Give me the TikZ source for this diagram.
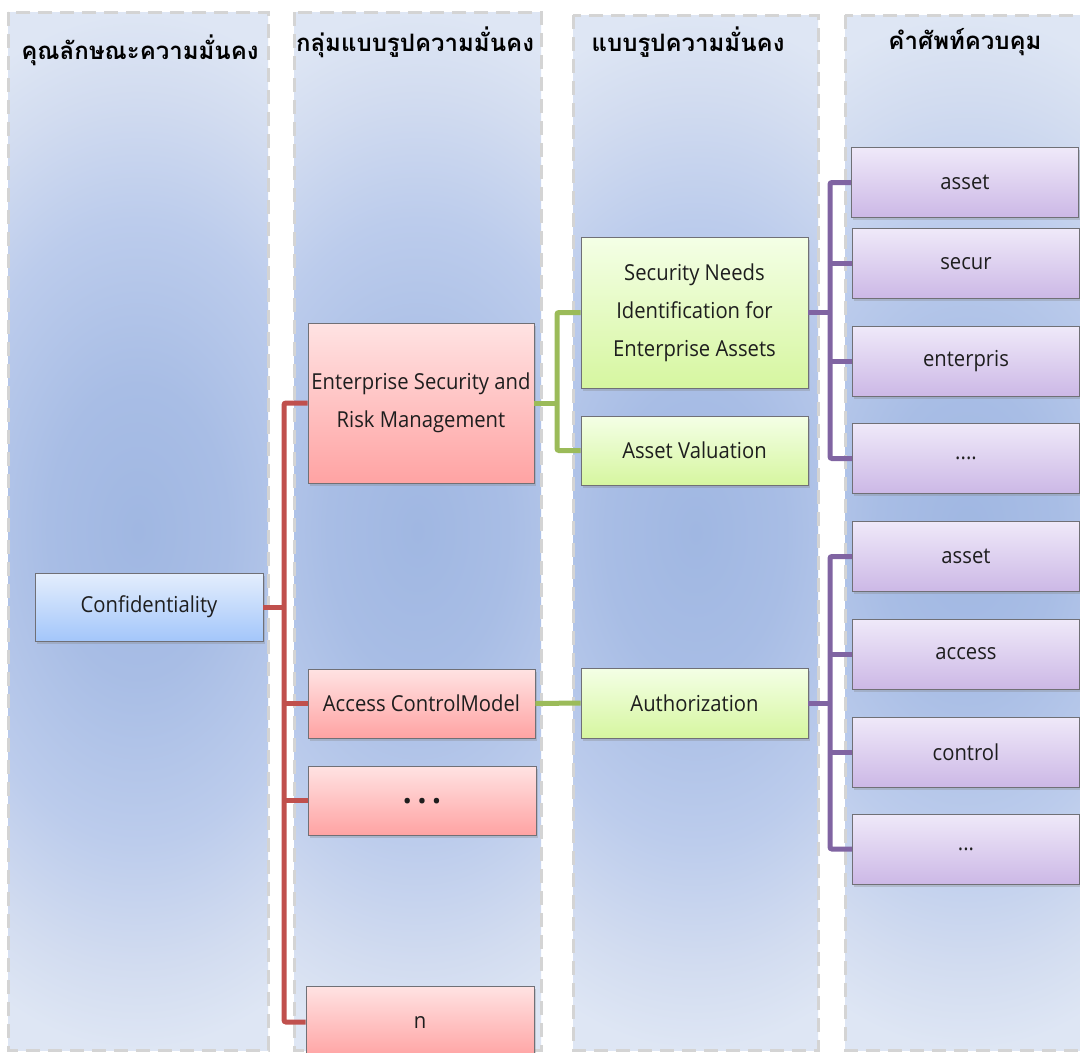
\documentclass[tikz,border=0pt]{standalone}
\usepackage{fontspec}
\setmainfont{Open Sans}[FakeStretch=0.92]
\newfontfamily\thaifont[Script=Thai]{Loma}
\usetikzlibrary{shadows}

% column glow and frame colours
\definecolor{colmid}{RGB}{160,183,226}
\definecolor{colinner}{RGB}{168,189,229}
\definecolor{colsoft}{RGB}{188,204,236}
\definecolor{colouter}{RGB}{210,220,240}
\definecolor{coledge}{RGB}{222,230,244}
\definecolor{colborder}{RGB}{212,212,212}
% box fills
\definecolor{bluetop}{RGB}{228,238,253}
\definecolor{bluebot}{RGB}{163,198,250}
\definecolor{redtop}{RGB}{255,227,227}
\definecolor{redbot}{RGB}{255,163,163}
\definecolor{greentop}{RGB}{244,255,230}
\definecolor{greenbot}{RGB}{214,246,160}
\definecolor{purptop}{RGB}{239,233,249}
\definecolor{purpbot}{RGB}{204,184,230}
\definecolor{boxline}{RGB}{112,112,118}
\definecolor{textc}{RGB}{30,30,30}
% connector colours
\definecolor{redc}{RGB}{192,80,77}
\definecolor{greenc}{RGB}{155,187,89}
\definecolor{purpc}{RGB}{128,100,162}

% the middle 50bp square of a shading is fitted to the path, so 25bp reaches the edge
\pgfdeclareradialshading{colglow}{\pgfpoint{0bp}{0bp}}{color(0bp)=(colmid); color(7bp)=(colinner); color(15bp)=(colsoft); color(21bp)=(colouter); color(25bp)=(coledge); color(50bp)=(coledge)}

\tikzset{
  colframe/.style={draw=colborder, line width=3pt, dash pattern=on 14pt off 8pt},
  hdr/.style={font=\thaifont\bfseries\fontsize{24}{28}\selectfont, text=black, inner sep=0pt},
  sz/.style 2 args={minimum width=#1pt, minimum height=#2pt},
  box/.style={draw=boxline, line width=0.9pt, inner sep=0pt, align=center, text=textc,
    font=\fontsize{22}{38}\selectfont,
    drop shadow={shadow xshift=1.5pt, shadow yshift=-2.5pt, opacity=0.3}},
  bluebox/.style={box, top color=bluetop, bottom color=bluebot},
  redbox/.style={box, top color=redtop, bottom color=redbot},
  greenbox/.style={box, top color=greentop, bottom color=greenbot},
  purpbox/.style={box, top color=purptop, bottom color=purpbot},
  redln/.style={draw=redc, line width=5pt},
  greenln/.style={draw=greenc, line width=5pt},
  purpln/.style={draw=purpc, line width=5pt},
}

\begin{document}
\begin{tikzpicture}[x=1pt, y=-1pt]
\useasboundingbox (0,0) rectangle (1080,1053);
\clip (0,0) rectangle (1080,1053);
\fill[white] (0,0) rectangle (1080,1053);

% the four column panels
\foreach \a/\b/\t in {8/268/12, 294/541/12, 573/818/15, 845/1090/15}{
  \begin{scope}
    \clip (\a,\t) rectangle (\b,1050);
    \shade[shading=colglow] ({(\a+\b)/2-320},\t) rectangle ({(\a+\b)/2+320},1050);
  \end{scope}
  \draw[colframe] (\a,\t) rectangle (\b,1050);
}

% column headings
\node[hdr] (h1) at (140,50) {คุณลักษณะความมั่นคง};
\node[hdr] (h2) at (415,42) {กลุ่มแบบรูปความมั่นคง};
\node[hdr] (h3) at (688,42) {แบบรูปความมั่นคง};
\node[hdr] (h4) at (965,42) {คำศัพท์ควบคุม};

% security attribute
\node[bluebox, sz={228}{68}] (conf) at (149,607) {Confidentiality};

% model groups
\node[redbox, sz={226}{160}] (esrm) at (421,403) {Enterprise Security and\\Risk Management};
\node[redbox, sz={227}{69}] (acm) at (421.5,703.5) {Access ControlModel};
\node[redbox, sz={228}{69}] (more) at (422,800.5) {\raisebox{-7pt}{\fontsize{34}{34}\selectfont\bfseries .\,.\,.}};
\node[redbox, sz={228}{72}] (nth) at (420,1022) {n};

% models
\node[greenbox, sz={227}{151}] (sni) at (694.5,312.5) {Security Needs\\Identification for\\Enterprise Assets};
\node[greenbox, sz={227}{69}] (av) at (694.5,450.5) {Asset Valuation};
\node[greenbox, sz={227}{70}] (auth) at (694.5,703) {Authorization};

% control terms
\node[purpbox, sz={227}{70}] (t1) at (965,182.5) {asset};
\node[purpbox, sz={227}{70}] (t2) at (966,263.5) {secur};
\node[purpbox, sz={227}{70}] (t3) at (966,361.5) {enterpris};
\node[purpbox, sz={227}{70}] (t4) at (966,458.5) {....};
\node[purpbox, sz={227}{70}] (t5) at (966,556.5) {asset};
\node[purpbox, sz={227}{70}] (t6) at (966,654) {access};
\node[purpbox, sz={227}{70}] (t7) at (966,752) {control};
\node[purpbox, sz={227}{70}] (t8) at (966,849) {...};

% trunk positions
\coordinate (rx) at (284,0);
\coordinate (gx) at (557,0);
\coordinate (px) at (830,0);

% attribute -> model groups
\draw[redln, rounded corners=2pt] (esrm.west) -| (rx |- nth.west) -- (nth.west);
\draw[redln] (conf.east) -- (rx |- conf.east);
\draw[redln] (acm.west) -- (rx |- acm.west);
\draw[redln] (more.west) -- (rx |- more.west);

% model groups -> models
\draw[greenln] (esrm.east) -- (gx |- esrm.east);
\draw[greenln, rounded corners=2pt] (sni.west) -| (gx |- av.west) -- (av.west);
\draw[greenln] (acm.east) -- (auth.west);

% models -> control terms
\draw[purpln] (sni.east) -- (px |- sni.east);
\draw[purpln, rounded corners=2pt] (t1.west) -| (px |- t4.west) -- (t4.west);
\draw[purpln] (t2.west) -- (px |- t2.west);
\draw[purpln] (t3.west) -- (px |- t3.west);
\draw[purpln] (auth.east) -- (px |- auth.east);
\draw[purpln, rounded corners=2pt] (t5.west) -| (px |- t8.west) -- (t8.west);
\draw[purpln] (t6.west) -- (px |- t6.west);
\draw[purpln] (t7.west) -- (px |- t7.west);
\end{tikzpicture}
\end{document}
